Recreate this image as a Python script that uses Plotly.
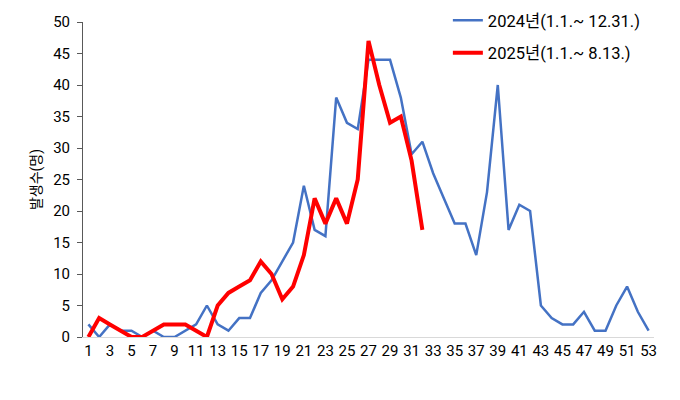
import plotly.graph_objects as go

weeks = list(range(1, 54))
cases_2024 = [2, 0, 2, 1, 1, 0, 1, 0, 0, 1, 2, 5, 2, 1, 3, 3, 7, 9, 12, 15,
              24, 17, 16, 38, 34, 33, 44, 44, 44, 38, 29, 31, 26, 22, 18, 18, 13, 23, 40, 17,
              21, 20, 5, 3, 2, 2, 4, 1, 1, 5, 8, 4, 1]
cases_2025 = [0, 3, 2, 1, 0, 0, 1, 2, 2, 2, 1, 0, 5, 7, 8, 9, 12, 10, 6, 8,
              13, 22, 18, 22, 18, 25, 47, 40, 34, 35, 28, 17]
name_2024 = "2024년(1.1.~ 12.31.)"
name_2025 = "2025년(1.1.~ 8.13.)"
x_ticks = list(range(1, 54, 2))
y_ticks = list(range(0, 51, 5))

font_family = "Roboto, 'Noto Sans CJK KR', sans-serif"

fig = go.Figure()
fig.add_trace(go.Scatter(x=weeks, y=cases_2024, mode="lines", name=name_2024,
                         line=dict(color="#4472C4", width=2.5), legendgroup="a"))
fig.add_trace(go.Scatter(x=weeks[:len(cases_2025)], y=cases_2025, mode="lines", name=name_2025,
                         line=dict(color="#FF0000", width=4), legendgroup="b"))

fig.update_layout(
    width=664, height=384,
    margin=dict(l=75, r=18, t=14, b=55, autoexpand=False),
    paper_bgcolor="white", plot_bgcolor="white",
    font=dict(family=font_family, size=15, color="#000000"),
    showlegend=True,
    legend=dict(x=0.639, y=1.06, xanchor="left", yanchor="top",
                font=dict(size=16.5, color="#000000"), tracegroupgap=8,
                itemwidth=30, bgcolor="rgba(0,0,0,0)"),
    xaxis=dict(range=[0.5, 53.5], tickmode="array", tickvals=x_ticks,
               ticktext=[str(t) for t in x_ticks], showgrid=False, zeroline=False,
               showline=True, linecolor="#d9d9d9", linewidth=1, ticks="",
               tickfont=dict(size=15), automargin=False, ticklabelstandoff=0),
    yaxis=dict(range=[0, 50], tickmode="array", tickvals=y_ticks, showgrid=False,
               zeroline=False, showline=True, linecolor="#595959", linewidth=1,
               ticks="outside", ticklen=5, tickcolor="#595959",
               tickfont=dict(size=15), automargin=False, ticklabelstandoff=4,
               title=dict(text="발생수(명)", font=dict(size=14), standoff=8)),
)

fig.write_html("out.html")
